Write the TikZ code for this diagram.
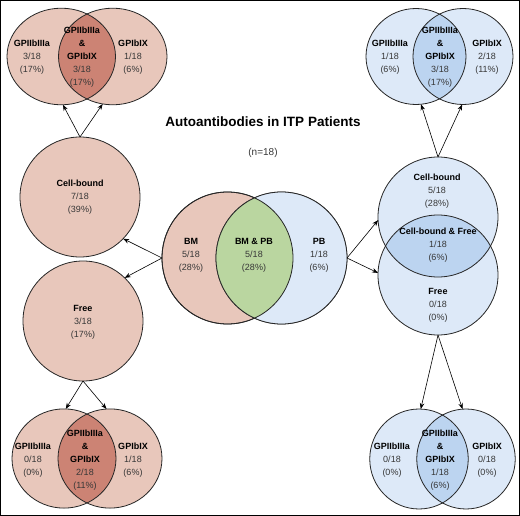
\documentclass[tikz,border=0pt]{standalone}
\usepackage{fontspec}
\setmainfont{Liberation Sans}
\usetikzlibrary{shapes.geometric,arrows.meta}
\definecolor{pinkL}{RGB}{232,199,187}
\definecolor{pinkD}{RGB}{204,131,116}
\definecolor{greenM}{RGB}{186,214,160}
\definecolor{blueL}{RGB}{221,233,248}
\definecolor{blueD}{RGB}{188,212,240}
\definecolor{numgray}{RGB}{55,55,55}
\newcommand\vlab[3]{\textbf{#1}\\\textcolor{numgray}{#2}\\\textcolor{numgray}{#3}}
\newcommand\vlens[2]{\textbf{GPIIbIIIa}\\\textbf{\&}\\\textbf{GPIbIX}\\\textcolor{numgray}{#1}\\\textcolor{numgray}{#2}}
% #1 left name, #2 left centre, #3 right name, #4 right centre, #5 x radius, #6 y radius, #7 light, #8 dark
\newcommand\vennpair[8]{%
  \node[vennc, fill=#7, minimum width=2*#5, minimum height=2*#6] (#1) at #2 {};
  \node[vennc, fill=#7, minimum width=2*#5, minimum height=2*#6] (#3) at #4 {};
  \begin{scope}
    \clip #2 ellipse [x radius=#5, y radius=#6];
    \fill[#8] #4 ellipse [x radius=#5, y radius=#6];
  \end{scope}
  \draw[vline] #2 ellipse [x radius=#5, y radius=#6];
  \draw[vline] #4 ellipse [x radius=#5, y radius=#6];
}
\begin{document}
\begin{tikzpicture}[x=1pt,y=-1pt,
  vennc/.style={ellipse, inner sep=0pt, outer sep=0pt},
  vline/.style={draw=black!85, line width=0.8pt},
  txt/.style={align=center, inner sep=0pt, font=\fontsize{9}{13}\selectfont},
  arr/.style={-{Stealth[length=6pt,width=4.5pt]}, line width=0.6pt, draw=black}]
\useasboundingbox (0,0) rectangle (520,516);
\draw[line width=1pt] (0.5,0.5) rectangle (519.5,515.5);

% top-left
\vennpair{tlL}{(61.25,56.5)}{tlR}{(112.75,56.5)}{54.25pt}{48.3pt}{pinkL}{pinkD}
\node[txt] (tlLt) at (32,57) {\vlab{GPIIbIIIa}{3/18}{(17\%)}};
\node[txt] (tlMt) at (82,57) {\vlens{3/18}{(17\%)}};
\node[txt] (tlRt) at (133,57) {\vlab{GPIbIX}{1/18}{(6\%)}};

% top-right
\vennpair{trL}{(416,56.5)}{trR}{(463,56.5)}{50pt}{48pt}{blueL}{blueD}
\node[txt] (trLt) at (390,57) {\vlab{GPIIbIIIa}{1/18}{(6\%)}};
\node[txt] (trMt) at (440,57) {\vlens{3/18}{(17\%)}};
\node[txt] (trRt) at (487,57) {\vlab{GPIbIX}{2/18}{(11\%)}};

% bottom-left
\vennpair{blL}{(64,458.5)}{blR}{(110,458.5)}{52pt}{49.6pt}{pinkL}{pinkD}
\node[txt] (blLt) at (33,460) {\vlab{GPIIbIIIa}{0/18}{(0\%)}};
\node[txt] (blMt) at (85,460) {\vlens{2/18}{(11\%)}};
\node[txt] (blRt) at (133,460) {\vlab{GPIbIX}{1/18}{(6\%)}};

% bottom-right
\vennpair{brL}{(419,459)}{brR}{(466,459)}{49.25pt}{50pt}{blueL}{blueD}
\node[txt] (brLt) at (392,460) {\vlab{GPIIbIIIa}{0/18}{(0\%)}};
\node[txt] (brMt) at (440,460) {\vlens{1/18}{(6\%)}};
\node[txt] (brRt) at (487,460) {\vlab{GPIbIX}{0/18}{(0\%)}};

% centre
\vennpair{bmL}{(227.5,258)}{bmR}{(281.5,258)}{65.5pt}{66pt}{pinkL}{greenM}
\fill[blueL] (281.5,258) ellipse [x radius=65.5pt, y radius=66pt];
\begin{scope}
  \clip (227.5,258) ellipse [x radius=65.5pt, y radius=66pt];
  \fill[greenM] (281.5,258) ellipse [x radius=65.5pt, y radius=66pt];
\end{scope}
\draw[vline] (227.5,258) ellipse [x radius=65.5pt, y radius=66pt];
\draw[vline] (281.5,258) ellipse [x radius=65.5pt, y radius=66pt];
\node[txt] (bmLt) at (191,255) {\vlab{BM}{5/18}{(28\%)}};
\node[txt] (bmMt) at (254,255) {\vlab{BM \& PB}{5/18}{(28\%)}};
\node[txt] (bmRt) at (319,255) {\vlab{PB}{1/18}{(6\%)}};

% left singles
\node[vennc, vline, fill=pinkL, minimum size=120pt] (cbL) at (80,197) {};
\node[txt] (cbLt) at (80,197) {\vlab{Cell-bound}{7/18}{(39\%)}};
\node[vennc, vline, fill=pinkL, minimum size=120pt] (frL) at (83,321) {};
\node[txt] (frLt) at (83,322) {\vlab{Free}{3/18}{(17\%)}};

% right cell-bound / free
\vennpair{cbR}{(438,217)}{frR}{(438,275)}{60pt}{60pt}{blueL}{blueD}
\node[txt] (cbRt) at (437,191) {\vlab{Cell-bound}{5/18}{(28\%)}};
\node[txt] (cfRt) at (438,245) {\vlab{Cell-bound \& Free}{1/18}{(6\%)}};
\node[txt] (frRt) at (438,305) {\vlab{Free}{0/18}{(0\%)}};

% title
\node[inner sep=0pt, font=\bfseries\fontsize{13.5}{16}\selectfont] (title) at (263,122) {Autoantibodies in ITP Patients};
\node[inner sep=0pt, font=\fontsize{10}{12}\selectfont, text=numgray] (nn) at (263,153) {(n=18)};

% arrows
\draw[arr] (bmL.west) -- (cbL.-44);
\draw[arr] (bmL.west) -- (frL.46);
\draw[arr] (bmR.east) -- (cbR.183);
\draw[arr] (bmR.east) -- (frR.178);
\draw[arr] (cbL.north) -- (tlL.-88);
\draw[arr] (cbL.north) -- (tlR.-102);
\draw[arr] (cbR.north) -- (trL.-84);
\draw[arr] (cbR.north) -- (trR.-91);
\draw[arr] (frL.south) -- (blL.88);
\draw[arr] (frL.south) -- (blR.94);
\draw[arr] (frR.south) -- (brL.88);
\draw[arr] (frR.south) -- (brR.94);
\end{tikzpicture}
\end{document}
